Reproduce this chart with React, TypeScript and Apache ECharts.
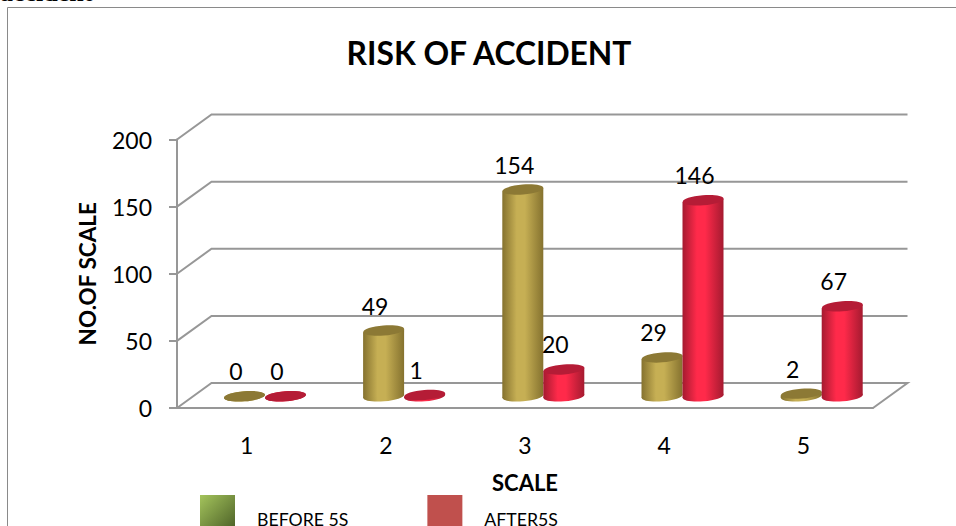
import React, { useEffect, useRef } from "react";
import * as echarts from "echarts";

const categories = ["1", "2", "3", "4", "5"];
const beforeValues = [0, 49, 154, 29, 2];
const afterValues = [0, 1, 20, 146, 67];
const wallTicks = [0, 50, 100, 150, 200];
const seriesNames = ["BEFORE 5S", "AFTER5S"];
const pageCaption = "accident";

const FONT = "Lato, Carlito, sans-serif";
const GRID_COLOR = "#979797";
const DEPTH_X = 34.5;
const DEPTH_Y = 25;
const BASE_DX = 18.3;
const BASE_DY = 11.7;
const RX = 20.5;
const RY = 5;
const TILT = 0.08;

const cylinderGradient = (dark: string, light: string) =>
  new echarts.graphic.LinearGradient(0, 0, 1, 0, [
    { offset: 0, color: dark },
    { offset: 0.35, color: light },
    { offset: 0.55, color: light },
    { offset: 1, color: dark },
  ]);

const cylinder = (side: number, dark: string, light: string, cap: string) =>
  (params: any, api: any) => {
    const value = api.value(1);
    const top = api.coord([api.value(0), value]);
    const bottom = api.coord([api.value(0), 0]);
    const cx = top[0] + BASE_DX + side * RX;
    const topY = top[1] - BASE_DY;
    const botY = bottom[1] - BASE_DY;
    const rise = RX * Math.sin(TILT);
    const fill = cylinderGradient(dark, light);
    const ellipse = (cy: number, color: any) => ({
      type: "ellipse",
      originX: cx,
      originY: cy,
      rotation: TILT,
      shape: { cx, cy, rx: RX, ry: RY },
      style: { fill: color },
    });
    return {
      type: "group",
      children: [
        ellipse(botY, fill),
        {
          type: "polygon",
          shape: {
            points: [
              [cx - RX, topY + rise],
              [cx + RX, topY - rise],
              [cx + RX, botY - rise],
              [cx - RX, botY + rise],
            ],
          },
          style: { fill },
        },
        ellipse(topY, cap),
        {
          type: "text",
          z2: 10,
          style: {
            text: String(value),
            x: cx - 8.5,
            y: topY - 25,
            fill: "#000",
            font: `23px ${FONT}`,
            textAlign: "center",
            textVerticalAlign: "middle",
          },
        },
      ],
    };
  };

const wall = (params: any, api: any) => {
  const y = api.coord([0, api.value(0)])[1];
  const left = params.coordSys.x;
  const right = left + params.coordSys.width;
  const isFloor = api.value(0) === 0;
  const points = isFloor
    ? [
        [left, y],
        [left + DEPTH_X, y - DEPTH_Y],
        [right + DEPTH_X, y - DEPTH_Y],
        [right, y],
      ]
    : [
        [left, y],
        [left + DEPTH_X, y - DEPTH_Y],
        [right + DEPTH_X, y - DEPTH_Y],
      ];
  return {
    type: "polyline",
    shape: { points },
    style: { stroke: GRID_COLOR, lineWidth: 2, fill: "none" },
  };
};

export default function App() {
  const ref = useRef<HTMLDivElement>(null);
  useEffect(() => {
    const chart = echarts.init(ref.current!, undefined, { renderer: "svg" });
    chart.setOption({
      animation: false,
      backgroundColor: "#fff",
      title: {
        text: "RISK OF ACCIDENT",
        left: 484,
        top: 32,
        textAlign: "center",
        textStyle: { fontFamily: FONT, fontSize: 31.8, fontWeight: "bold", color: "#000" },
      },
      grid: { left: 177, top: 139.5, width: 696, height: 268.5 },
      xAxis: {
        type: "category",
        data: categories,
        name: "SCALE",
        nameLocation: "middle",
        nameGap: 63,
        nameTextStyle: { fontFamily: FONT, fontSize: 22, fontWeight: "bold", color: "#000" },
        axisLine: { lineStyle: { color: GRID_COLOR, width: 2 } },
        axisTick: { show: false },
        axisLabel: { margin: 25, fontFamily: FONT, fontSize: 23, color: "#000" },
      },
      yAxis: {
        type: "value",
        min: 0,
        max: 200,
        interval: 50,
        name: "NO.OF SCALE",
        nameLocation: "middle",
        nameRotate: 90,
        nameGap: 78,
        nameTextStyle: { fontFamily: FONT, fontSize: 22.5, fontWeight: "bold", color: "#000" },
        axisLine: { show: true, lineStyle: { color: GRID_COLOR, width: 2 } },
        axisTick: { show: true, length: 8, lineStyle: { color: GRID_COLOR, width: 2 } },
        splitLine: { show: false },
        axisLabel: { margin: 25, fontFamily: FONT, fontSize: 23, color: "#000" },
      },
      legend: {
        left: 200,
        top: 495,
        padding: 0,
        itemWidth: 35,
        itemHeight: 36,
        itemGap: 79,
        selectedMode: false,
        formatter: "\n{name}",
        textStyle: { fontFamily: FONT, fontSize: 17.7, lineHeight: 12, color: "#000", padding: [0, 0, 0, 17] },
        data: [
          {
            name: seriesNames[0],
            icon: "rect",
            itemStyle: {
              color: new echarts.graphic.LinearGradient(0, 0, 1, 1, [
                { offset: 0, color: "#a4c45c" },
                { offset: 1, color: "#4a5e26" },
              ]),
            },
          },
          { name: seriesNames[1], icon: "rect", itemStyle: { color: "#c0504d" } },
        ],
      },
      series: [
        {
          name: "walls",
          type: "custom",
          z: 1,
          silent: true,
          renderItem: wall,
          encode: { y: 0 },
          data: wallTicks.map((v) => [v]),
        },
        {
          name: seriesNames[0],
          type: "custom",
          z: 2,
          encode: { x: 0, y: 1 },
          renderItem: cylinder(-1, "#85722f", "#c6af54", "#8c7935"),
          data: beforeValues.map((v, i) => [categories[i], v]),
        },
        {
          name: seriesNames[1],
          type: "custom",
          z: 3,
          encode: { x: 0, y: 1 },
          renderItem: cylinder(1, "#a51a30", "#ff2a4a", "#b51c36"),
          data: afterValues.map((v, i) => [categories[i], v]),
        },
      ],
      graphic: [
        {
          type: "polyline",
          silent: true,
          shape: { points: [[7.5, 526], [7.5, 7.5], [956, 7.5]] },
          style: { stroke: "#8a8a8a", lineWidth: 1, fill: "none" },
        },
        {
          type: "text",
          silent: true,
          style: {
            text: pageCaption,
            x: 0,
            y: 5,
            fill: "#000",
            font: 'bold 26px "Liberation Serif", serif',
            textVerticalAlign: "bottom",
          },
        },
      ],
    });
    return () => chart.dispose();
  }, []);
  return <div ref={ref} style={{ position: "absolute", left: 0, top: 0, width: 956, height: 526 }} />;
}
